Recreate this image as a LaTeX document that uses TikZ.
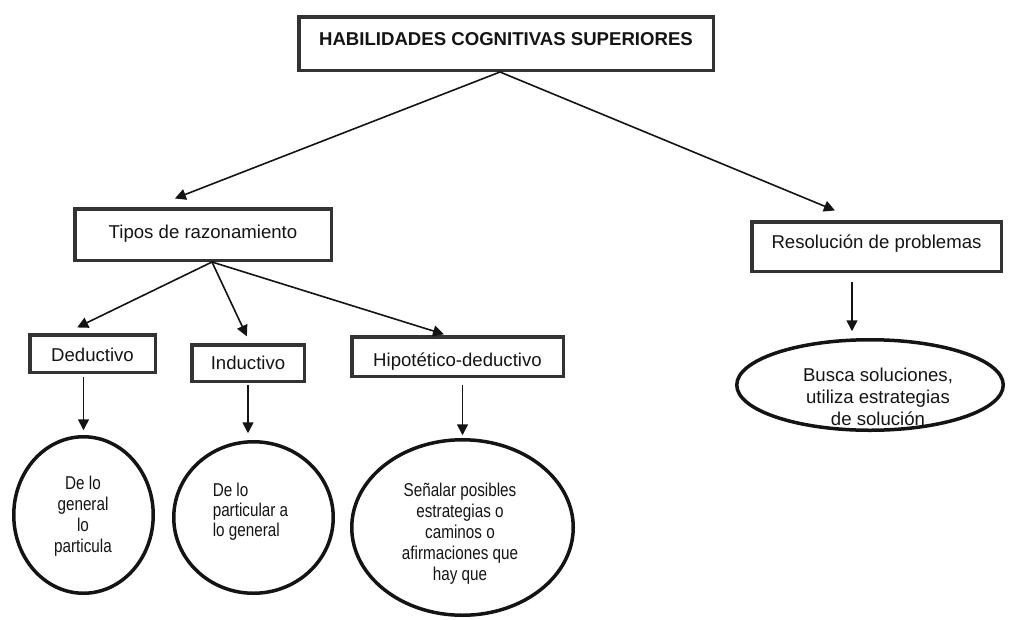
\documentclass[tikz,border=0pt]{standalone}
\usepackage{fontspec}
\setmainfont{Liberation Sans}
\newfontfamily\narrowsf[FakeStretch=0.82]{Liberation Sans}
\usetikzlibrary{arrows.meta,shapes.geometric}
\definecolor{boxline}{HTML}{333333}
\definecolor{ink}{HTML}{141414}
\tikzset{
  box/.style={draw=boxline, line width=3.5pt, rectangle, inner sep=0pt, text=ink,
    font=\fontsize{18.6}{21}\selectfont},
  ell/.style={draw=ink, line width=3.5pt, ellipse, inner sep=0pt},
  etext/.style={text=ink, align=center, inner sep=0pt,
    font=\narrowsf\fontsize{18.6}{21}\selectfont},
  arr/.style={draw=ink, line width=1.6pt, -{Triangle[length=11pt,width=11pt]}}
}
\begin{document}
\begin{tikzpicture}[x=1pt,y=-1pt]
\useasboundingbox (0,0) rectangle (1012,619);
% boxes
\node[box, minimum width=414.5pt, minimum height=53.5pt, text height=13.3pt, text depth=9pt,
  font=\bfseries\fontsize{18.6}{21}\selectfont] (title) at (506,43.5) {HABILIDADES COGNITIVAS SUPERIORES};
\node[box, minimum width=256.5pt, minimum height=51.5pt, text height=13.3pt, text depth=5pt] (tipos) at (203,234.5) {Tipos de razonamiento};
\node[box, minimum width=249.5pt, minimum height=49.5pt, text height=13.3pt, text depth=9pt] (res) at (876.5,246.5) {Resolución de problemas};
\node[box, minimum width=125.5pt, minimum height=37.5pt, text height=16.3pt, text depth=0pt] (ded) at (92.5,353.5) {Deductivo};
\node[box, minimum width=112.5pt, minimum height=36.5pt, text height=13.3pt, text depth=0pt] (ind) at (248,363) {Inductivo};
\node[box, minimum width=211.5pt, minimum height=39.5pt, text height=20.3pt, text depth=0pt] (hip) at (457.5,356.5) {Hipotético-deductivo};
% ellipses
\node[ell, minimum width=139.5pt, minimum height=156.5pt] (c1) at (83.5,515) {};
\node[ell, minimum width=159.5pt, minimum height=151.5pt] (c2) at (253.5,517.5) {};
\node[ell, minimum width=221.5pt, minimum height=175.5pt] (e3) at (462.5,527.5) {};
\node[ell, minimum width=266.5pt, minimum height=90.5pt] (e4) at (870,385) {};
% ellipse texts
\node[etext] (c1t) at (83,516.5) {De lo\\general\\lo\\particula};
\node[etext, align=left, font=\narrowsf\fontsize{18.6}{20}\selectfont] (c2t) at (250.5,511.5) {De lo\\particular a\\lo general};
\node[etext] (e3t) at (460,534) {Señalar posibles\\estrategias o\\caminos o\\afirmaciones que\\hay que};
\node[etext, font=\fontsize{18.6}{22}\selectfont] (e4t) at (878,397) {Busca soluciones,\\utiliza estrategias\\de solución};
% connectors
\draw[arr, shorten >=23.5pt] ([xshift=-6pt]title.south) -- ([xshift=-50pt]tipos.north);
\draw[arr, shorten >=25pt] ([xshift=-6pt]title.south) -- ([xshift=-18.5pt]res.north);
\draw[arr, shorten >=12.7pt] ([xshift=9pt]tipos.south) -- ([xshift=-26.8pt]ded.north);
\draw[arr, shorten >=7.4pt] ([xshift=9pt]tipos.south) -- ([xshift=2pt]ind.north);
\draw[arr, shorten >=2.4pt] ([xshift=9pt]tipos.south) -- ([xshift=-11.2pt]hip.north);
\draw[arr, shorten <=2.75pt, shorten >=4.75pt] (ded.south -| c1.north) -- (c1.north);
\draw[arr, shorten <=1.75pt, shorten >=6.75pt] (ind.south) -- (ind.south |- c2.north);
\draw[arr, shorten <=6.75pt, shorten >=2.75pt] (hip.south -| e3.north) -- (e3.north);
\draw[arr, shorten <=8.75pt, shorten >=6.75pt] ([xshift=-24.5pt]res.south) -- ([xshift=-24.5pt]res.south |- e4.north);
\end{tikzpicture}
\end{document}
